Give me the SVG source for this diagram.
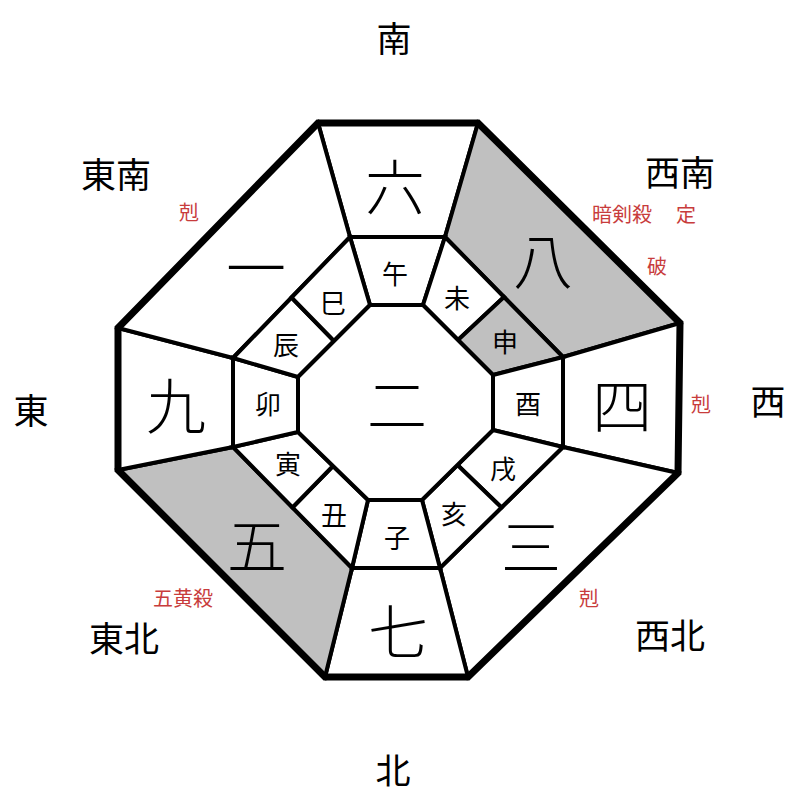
<svg xmlns="http://www.w3.org/2000/svg" width="800" height="800" viewBox="0 0 800 800">
<style>
.cell{fill:#ffffff;stroke:#000;stroke-width:4;stroke-linejoin:miter}
.gray{fill:#c0c0c0}
.outer{fill:none;stroke:#000;stroke-width:7;stroke-linejoin:miter}
text{font-family:"Noto Sans CJK JP","Noto Sans CJK SC",sans-serif;text-anchor:middle;dominant-baseline:central;fill:#000}
.dir{font-size:35px}
.big{font-size:60px;font-weight:300}
.zod{font-size:26px}
.red{font-size:20px;fill:#c83c3c}
</style>
<rect width="800" height="800" fill="#ffffff"/>
<g id="outer-ring">
<g id="cell-s"><polygon class="cell" points="318,123 478,123 445,237 350,237"/><text class="big" x="395" y="183">六</text></g>
<g id="cell-sw"><polygon class="cell gray" points="478,123 680,323 563,357 445,237"/><text class="big" x="543" y="257">八</text></g>
<g id="cell-w"><polygon class="cell" points="680,323 678,473 563,447 563,357"/><text class="big" x="622" y="402">四</text></g>
<g id="cell-nw"><polygon class="cell" points="678,473 468,677 440,568 563,447"/><text class="big" x="531" y="543">三</text></g>
<g id="cell-n"><polygon class="cell" points="468,677 325,677 352,568 440,568"/><text class="big" x="398" y="628">七</text></g>
<g id="cell-ne"><polygon class="cell gray" points="325,677 118,470 233,447 352,568"/><text class="big" x="257" y="542">五</text></g>
<g id="cell-e"><polygon class="cell" points="118,470 118,328 233,358 233,447"/><text class="big" x="176" y="402">九</text></g>
<g id="cell-se"><polygon class="cell" points="118,328 318,123 350,237 233,358"/><text class="big" x="256" y="264">一</text></g>
</g>
<g id="middle-ring">
<g id="cell-uma"><polygon class="cell" points="350,237 445,237 423,305 370,305"/><text class="zod" x="395" y="272">午</text></g>
<g id="cell-hitsuji"><polygon class="cell" points="445,237 504,297 458,340 423,305"/><text class="zod" x="457" y="296">未</text></g>
<g id="cell-saru"><polygon class="cell gray" points="504,297 563,357 493,375 458,340"/><text class="zod" x="505" y="340">申</text></g>
<g id="cell-tori"><polygon class="cell" points="563,357 563,447 493,430 493,375"/><text class="zod" x="528" y="402">酉</text></g>
<g id="cell-inu"><polygon class="cell" points="563,447 501.5,507.5 457.5,465 493,430"/><text class="zod" x="503" y="467">戌</text></g>
<g id="cell-i"><polygon class="cell" points="501.5,507.5 440,568 422,500 457.5,465"/><text class="zod" x="454" y="512">亥</text></g>
<g id="cell-ne-zi"><polygon class="cell" points="440,568 352,568 368,500 422,500"/><text class="zod" x="397" y="536">子</text></g>
<g id="cell-ushi"><polygon class="cell" points="352,568 292.5,507.5 333,466 368,500"/><text class="zod" x="334" y="513">丑</text></g>
<g id="cell-tora"><polygon class="cell" points="292.5,507.5 233,447 298,432 333,466"/><text class="zod" x="288" y="462">寅</text></g>
<g id="cell-u"><polygon class="cell" points="233,447 233,358 298,377 298,432"/><text class="zod" x="268" y="402">卯</text></g>
<g id="cell-tatsu"><polygon class="cell" points="233,358 291.5,297.5 334,341 298,377"/><text class="zod" x="286" y="343">辰</text></g>
<g id="cell-mi"><polygon class="cell" points="291.5,297.5 350,237 370,305 334,341"/><text class="zod" x="333" y="301">巳</text></g>
</g>
<g id="center"><polygon class="cell" points="370,305 423,305 493,375 493,430 422,500 368,500 298,432 298,377"/><text class="big" x="397" y="401">二</text></g>
<g id="connectors"><polygon class="outer" points="318,123 478,123 680,323 678,473 468,677 325,677 118,470 118,328"/></g>
<g id="labels">
<text class="dir" x="394" y="36">南</text>
<text class="dir" x="116" y="172">東南</text>
<text class="dir" x="680" y="170">西南</text>
<text class="dir" x="31" y="408">東</text>
<text class="dir" x="768" y="399">西</text>
<text class="dir" x="124" y="636">東北</text>
<text class="dir" x="670" y="633">西北</text>
<text class="dir" x="393" y="768">北</text>
<text class="red" x="189" y="211">剋</text>
<text class="red" x="622" y="213">暗剣殺</text>
<text class="red" x="686" y="213">定</text>
<text class="red" x="657" y="265">破</text>
<text class="red" x="701" y="403">剋</text>
<text class="red" x="183" y="597">五黄殺</text>
<text class="red" x="589" y="597">剋</text>
</g>
</svg>
